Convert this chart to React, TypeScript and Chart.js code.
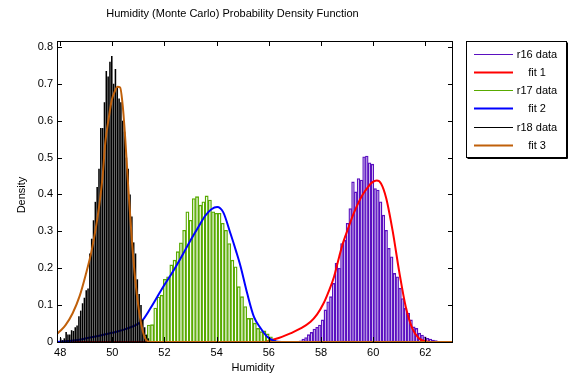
import React, { useEffect, useRef } from "react";
import { Chart, registerables } from "chart.js";

Chart.register(...registerables);

const FONT_FAMILY = '"Liberation Sans", Arial, Helvetica, sans-serif';

const TITLE = "Humidity (Monte Carlo) Probability Density Function";
const X_LABEL = "Humidity";
const Y_LABEL = "Density";

const X_MIN = 47.88;
const X_MAX = 63.06;
const Y_MIN = 0;
const Y_MAX = 0.816;
const X_TICKS = [48, 50, 52, 54, 56, 58, 60, 62];
const X_TICK_LABELS = ["48", "50", "52", "54", "56", "58", "60", "62"];
const Y_TICKS = [0, 0.1, 0.2, 0.3, 0.4, 0.5, 0.6, 0.7, 0.8];
const Y_TICK_LABELS = ["0", "0.1", "0.2", "0.3", "0.4", "0.5", "0.6", "0.7", "0.8"];

// r16 histogram (bin centres, density)
const R16_BINS = [
  57.212, 57.318, 57.424, 57.53, 57.636, 57.742, 57.848, 57.954, 58.06, 58.166,
  58.272, 58.378, 58.484, 58.59, 58.696, 58.802, 58.908, 59.014, 59.12, 59.226,
  59.332, 59.438, 59.544, 59.65, 59.756, 59.862, 59.968, 60.074, 60.18, 60.286,
  60.392, 60.498, 60.604, 60.71, 60.816, 60.922, 61.028, 61.134, 61.24, 61.346,
  61.452, 61.558, 61.664, 61.77, 61.876, 61.982, 62.088, 62.194, 62.3, 62.406,
  62.512,
];
const R16_DENSITY = [
  0.003, 0.008, 0.012, 0.02, 0.026, 0.035, 0.04, 0.046, 0.06, 0.087,
  0.109, 0.123, 0.159, 0.213, 0.2, 0.267, 0.276, 0.322, 0.362, 0.434,
  0.407, 0.443, 0.439, 0.502, 0.504, 0.486, 0.482, 0.416, 0.412, 0.38,
  0.344, 0.303, 0.254, 0.231, 0.186, 0.177, 0.146, 0.118, 0.091, 0.078,
  0.06, 0.041, 0.037, 0.024, 0.019, 0.014, 0.01, 0.008, 0.005, 0.004,
  0.002,
];

// r17 histogram
const R17_BINS = [
  51.28, 51.403, 51.526, 51.649, 51.772, 51.895, 52.018, 52.141, 52.264, 52.387,
  52.51, 52.633, 52.756, 52.879, 53.002, 53.125, 53.248, 53.371, 53.494, 53.617,
  53.74, 53.863, 53.986, 54.109, 54.232, 54.355, 54.478, 54.601, 54.724, 54.847,
  54.97, 55.093, 55.216, 55.339, 55.462, 55.585, 55.708, 55.831, 55.954, 56.077,
  56.2,
];
const R17_DENSITY = [
  0.019, 0.046, 0.047, 0.092, 0.122, 0.127, 0.17, 0.177, 0.209, 0.222,
  0.245, 0.269, 0.303, 0.353, 0.33, 0.389, 0.394, 0.371, 0.38, 0.396,
  0.385, 0.353, 0.349, 0.349, 0.322, 0.303, 0.267, 0.222, 0.204, 0.15,
  0.123, 0.096, 0.064, 0.064, 0.051, 0.037, 0.028, 0.03, 0.022, 0.014,
  0.005,
];

// r18 histogram
const R18_BINS = [
  48.02, 48.09, 48.16, 48.23, 48.3, 48.37, 48.44, 48.51, 48.58, 48.65,
  48.72, 48.79, 48.86, 48.93, 49.0, 49.07, 49.14, 49.21, 49.28, 49.35,
  49.42, 49.49, 49.56, 49.63, 49.7, 49.77, 49.84, 49.91, 49.98, 50.05,
  50.12, 50.19, 50.26, 50.33, 50.4, 50.47, 50.54, 50.61, 50.68, 50.75,
  50.82, 50.89, 50.96, 51.03, 51.1, 51.17, 51.24, 51.31, 51.38,
];
const R18_DENSITY = [
  0.01, 0.005, 0.01, 0.027, 0.02, 0.02, 0.032, 0.03, 0.04, 0.045,
  0.07, 0.085, 0.105, 0.12, 0.14, 0.145, 0.24, 0.28, 0.33, 0.38,
  0.42, 0.47, 0.58, 0.58, 0.65, 0.735, 0.72, 0.76, 0.775, 0.7,
  0.74, 0.69, 0.66, 0.65, 0.6, 0.57, 0.5, 0.47, 0.4, 0.34,
  0.27, 0.24, 0.17, 0.13, 0.1, 0.06, 0.04, 0.02, 0.01,
];

// fitted curves
const FIT1_X = [
  47.88, 55.8, 56.0, 56.25, 56.5, 56.85, 57.2, 57.6, 57.85, 58.1, 58.3, 58.5,
  58.7, 58.85, 59.05, 59.25, 59.45, 59.6, 59.8, 59.95, 60.14, 60.3, 60.5,
  60.75, 61.0, 61.25, 61.5, 61.75, 62.0, 62.2, 63.06,
];
const FIT1_Y = [
  0, 0, 0.003, 0.008, 0.014, 0.024, 0.036, 0.055, 0.075, 0.105, 0.138, 0.177,
  0.232, 0.27, 0.31, 0.348, 0.38, 0.4, 0.42, 0.432, 0.438, 0.43, 0.39,
  0.3, 0.19, 0.095, 0.037, 0.01, 0.002, 0, 0,
];

const FIT2_X = [
  47.88, 48.5, 49.0, 49.5, 50.0, 50.5, 51.0, 51.2, 51.45, 51.72, 52.0, 52.36,
  52.7, 53.0, 53.3, 53.57, 53.8, 54.02, 54.25, 54.53, 54.75, 54.92, 55.17,
  55.43, 55.68, 55.94, 56.2, 56.5, 63.06,
];
const FIT2_Y = [
  0, 0.004, 0.01, 0.017, 0.025, 0.035, 0.05, 0.063, 0.09, 0.122, 0.155, 0.195,
  0.237, 0.276, 0.312, 0.343, 0.36, 0.366, 0.352, 0.294, 0.245, 0.204, 0.132,
  0.068, 0.038, 0.014, 0.003, 0, 0,
];

const FIT3_X = [
  47.88, 48.0, 48.2, 48.48, 48.75, 48.99, 49.2, 49.37, 49.48, 49.63, 49.73,
  49.87, 49.98, 50.1, 50.2, 50.3, 50.4, 50.5, 50.62, 50.75, 50.88, 51.0,
  51.13, 51.26, 51.4, 51.6, 63.06,
];
const FIT3_Y = [
  0.022, 0.03, 0.045, 0.078, 0.125, 0.185, 0.245, 0.31, 0.36, 0.45, 0.54,
  0.61, 0.656, 0.68, 0.692, 0.69, 0.64, 0.547, 0.41, 0.276, 0.168, 0.096,
  0.041, 0.01, 0.001, 0, 0,
];

const LEGEND_LABELS = ["r16 data", "fit 1", "r17 data", "fit 2", "r18 data", "fit 3"];

const PURPLE = "#5a10c0";
const RED = "#ff0000";
const GREEN = "#58aa00";
const BLUE = "#0000ff";
const BLACK = "#000000";
const BROWN = "#c0600a";

function pairs(xs: number[], ys: number[]) {
  return xs.map((x, i) => ({ x, y: ys[i] }));
}

const setXTicks = (scale: any) => {
  scale.ticks = X_TICKS.map((v) => ({ value: v }));
};

function hiddenX() {
  return {
    type: "linear" as const,
    axis: "x" as const,
    display: false,
    min: X_MIN,
    max: X_MAX,
    offset: false,
    afterBuildTicks: setXTicks,
  };
}

const decorPlugin = {
  id: "matlabDecor",
  afterDatasetsDraw(chart: any) {
    const { ctx, chartArea: a } = chart;
    const xs = chart.scales.x;
    const ys = chart.scales.y;
    ctx.save();
    ctx.strokeStyle = "#000";
    ctx.lineWidth = 1;
    ctx.strokeRect(a.left + 0.5, a.top + 0.5, a.right - a.left - 1, a.bottom - a.top);
    ctx.beginPath();
    Y_TICKS.forEach((v) => {
      const py = Math.round(ys.getPixelForValue(v)) + 0.5;
      ctx.moveTo(a.left, py);
      ctx.lineTo(a.left + 5, py);
      ctx.moveTo(a.right, py);
      ctx.lineTo(a.right - 5, py);
    });
    X_TICKS.forEach((v) => {
      const px = Math.round(xs.getPixelForValue(v)) + 0.5;
      ctx.moveTo(px, a.bottom);
      ctx.lineTo(px, a.bottom - 5);
      ctx.moveTo(px, a.top);
      ctx.lineTo(px, a.top + 5);
    });
    ctx.stroke();
    ctx.restore();
  },
  afterDraw(chart: any) {
    const { ctx } = chart;
    ctx.save();
    ctx.fillStyle = "#000";
    ctx.font = `11px ${FONT_FAMILY}`;
    ctx.textAlign = "center";
    ctx.textBaseline = "middle";
    ctx.fillText(TITLE, 232.5, 14);
    ctx.fillText(X_LABEL, 253, 368);
    ctx.save();
    ctx.translate(22, 195);
    ctx.rotate(-Math.PI / 2);
    ctx.fillText(Y_LABEL, 0, 0);
    ctx.restore();

    // legend
    const bx = 466.5, by = 41.5, bw = 100, bh = 116;
    ctx.fillStyle = "#fff";
    ctx.fillRect(bx, by, bw, bh);
    ctx.strokeStyle = "#000";
    ctx.lineWidth = 1;
    ctx.strokeRect(bx, by, bw, bh);
    ctx.beginPath();
    ctx.moveTo(bx + 1, by + bh + 1);
    ctx.lineTo(bx + bw + 1, by + bh + 1);
    ctx.lineTo(bx + bw + 1, by + 1);
    ctx.stroke();
    const dsets = chart.data.datasets;
    dsets.forEach((ds: any, i: number) => {
      const y = Math.round(53.5 + i * 18.3) + 0.5;
      ctx.beginPath();
      ctx.strokeStyle = ds.borderColor;
      ctx.lineWidth = ds.type === "line" ? 2 : 1;
      ctx.moveTo(474, y);
      ctx.lineTo(513, y);
      ctx.stroke();
      ctx.fillStyle = "#000";
      ctx.textAlign = "center";
      ctx.fillText(ds.label, 537, y);
    });
    ctx.restore();
  },
};

export default function App() {
  const ref = useRef<HTMLCanvasElement | null>(null);

  useEffect(() => {
    if (!ref.current) return;
    const barCommon = {
      type: "bar" as const,
      yAxisID: "y",
      backgroundColor: "rgba(255,255,255,0)",
      borderWidth: 0.7,
      borderSkipped: "start" as const,
      grouped: false,
      barPercentage: 1,
      categoryPercentage: 1,
    };
    const lineCommon = {
      type: "line" as const,
      xAxisID: "xfit",
      yAxisID: "y",
      pointRadius: 0,
      borderWidth: 2,
      fill: false,
      cubicInterpolationMode: "monotone" as const,
    };
    const chart = new Chart(ref.current, {
      type: "bar",
      data: {
        datasets: [
          { ...barCommon, label: LEGEND_LABELS[0], data: pairs(R16_BINS, R16_DENSITY), xAxisID: "x", borderColor: PURPLE, order: 6 },
          { ...lineCommon, label: LEGEND_LABELS[1], data: pairs(FIT1_X, FIT1_Y), borderColor: RED, order: 5 },
          { ...barCommon, label: LEGEND_LABELS[2], data: pairs(R17_BINS, R17_DENSITY), xAxisID: "xr17", borderColor: GREEN, order: 4 },
          { ...lineCommon, label: LEGEND_LABELS[3], data: pairs(FIT2_X, FIT2_Y), borderColor: BLUE, order: 3 },
          {
            ...barCommon,
            label: LEGEND_LABELS[4],
            data: pairs(R18_BINS, R18_DENSITY),
            xAxisID: "xr18",
            borderColor: BLACK,
            backgroundColor: BLACK,
            borderWidth: 0,
            barPercentage: 0.85,
            order: 2,
          },
          { ...lineCommon, label: LEGEND_LABELS[5], data: pairs(FIT3_X, FIT3_Y), borderColor: BROWN, order: 1 },
        ] as any,
      },
      options: {
        animation: false,
        responsive: false,
        events: [],
        layout: { padding: { left: 0, top: 41, right: 116, bottom: 0 } },
        plugins: { legend: { display: false }, title: { display: false }, tooltip: { enabled: false } },
        scales: {
          x: {
            type: "linear",
            position: "bottom",
            min: X_MIN,
            max: X_MAX,
            offset: false,
            afterBuildTicks: setXTicks,
            afterFit: (s: any) => { s.height = 37; },
            grid: { display: false, drawTicks: false, offset: false },
            border: { display: false },
            ticks: {
              autoSkip: false,
              maxRotation: 0,
              padding: 4,
              color: "#000",
              font: { family: FONT_FAMILY, size: 11 },
              callback: (_v: any, i: number) => X_TICK_LABELS[i],
            },
          },
          xr17: hiddenX(),
          xr18: hiddenX(),
          xfit: hiddenX(),
          y: {
            type: "linear",
            position: "left",
            min: Y_MIN,
            max: Y_MAX,
            afterBuildTicks: (s: any) => { s.ticks = Y_TICKS.map((v) => ({ value: v })); },
            afterFit: (s: any) => { s.width = 57; },
            grid: { display: false, drawTicks: false },
            border: { display: false },
            ticks: {
              padding: 4,
              color: "#000",
              font: { family: FONT_FAMILY, size: 11 },
              callback: (_v: any, i: number) => Y_TICK_LABELS[i],
            },
          },
        } as any,
      },
      plugins: [decorPlugin],
    });
    return () => chart.destroy();
  }, []);

  return (
    <div style={{ position: "fixed", left: 0, top: 0, width: 569, height: 379, background: "#fff" }}>
      <canvas ref={ref} width={569} height={379} style={{ width: 569, height: 379, display: "block" }} />
    </div>
  );
}
